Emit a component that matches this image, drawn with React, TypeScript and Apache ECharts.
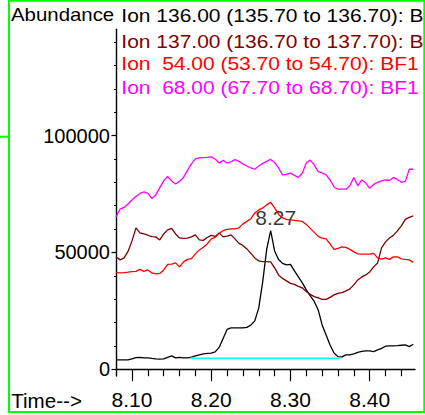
import React, { useEffect, useRef } from "react";
import * as echarts from "echarts";

const times = [
  8.080, 8.085, 8.090, 8.095, 8.100, 8.105, 8.110, 8.115, 8.120, 8.125,
  8.130, 8.135, 8.140, 8.145, 8.150, 8.155, 8.160, 8.165, 8.170, 8.175,
  8.180, 8.185, 8.190, 8.195, 8.200, 8.205, 8.210, 8.215, 8.220, 8.225,
  8.230, 8.235, 8.240, 8.245, 8.250, 8.255, 8.260, 8.265, 8.270, 8.275,
  8.280, 8.285, 8.290, 8.295, 8.300, 8.305, 8.310, 8.315, 8.320, 8.325,
  8.330, 8.335, 8.340, 8.345, 8.350, 8.355, 8.360, 8.365, 8.370, 8.375,
  8.380, 8.385, 8.390, 8.395, 8.400, 8.405, 8.410, 8.415, 8.420, 8.425,
  8.430, 8.435, 8.440, 8.445, 8.450, 8.455,
];

const ion136 = [
  3980, 3980, 3980, 3980, 4410, 4970, 5050, 4840, 4840, 4620,
  4410, 4280, 4410, 5050, 5690, 4840, 5050, 4840, 4840, 5140,
  5690, 6120, 6550, 6760, 6850, 7410, 9330, 13190, 17040, 17680,
  17680, 17680, 17680, 17900, 18960, 20680, 26240, 37500, 51300, 59300,
  50640, 47000, 45290, 44650, 44860, 42080, 39510, 36940, 33950, 31380,
  29020, 25390, 18960, 14680, 10400, 6980, 5390, 5270, 6120, 6120,
  6550, 7190, 7620, 7830, 7830, 7530, 8260, 8900, 9850, 9970,
  9970, 10100, 10270, 10400, 9670, 10700,
];

const ion137 = [
  48080, 46800, 47650, 50430, 54930, 60500, 58350, 57900, 57350, 56750,
  56650, 55350, 57900, 59650, 60300, 57900, 56200, 56000, 56100, 56650,
  57500, 55350, 55150, 56400, 57300, 56850, 58350, 56650, 56950, 57500,
  55800, 53850, 53000, 51500, 49570, 47650, 46360, 46060, 46060, 45930,
  43370, 40370, 38870, 37800, 36730, 36300, 35450, 34800, 33300, 32020,
  31080, 30520, 29880, 29880, 30740, 31810, 32450, 32790, 33520, 34380,
  36090, 38230, 39510, 40370, 41650, 43800, 45500, 51930, 54500, 56200,
  57280, 59200, 61350, 64130, 64990, 65630,
];

const ion54 = [
  41350, 41230, 41350, 41530, 41780, 41870, 42720, 41870, 42510, 41230,
  40800, 41010, 42510, 44860, 44950, 45510, 43800, 45930, 47000, 47350,
  49360, 51070, 52230, 53640, 55780, 56420, 58220, 59290, 59850, 60060,
  60060, 60490, 62200, 63270, 64430, 66910, 68200, 69050, 70340, 71400,
  69050, 66270, 64770, 64130, 63920, 63700, 63490, 63270, 61990, 60280,
  58560, 56850, 56080, 55780, 53640, 51290, 51710, 52360, 52140, 51290,
  50220, 49360, 49230, 49230, 49270, 49570, 47650, 47090, 47650, 47000,
  48080, 48080, 47220, 47000, 46790, 45720,
];

const ion68 = [
  65200, 68600, 69250, 70750, 72450, 73950, 75250, 75900, 75250, 73100,
  74600, 77600, 80600, 82500, 80600, 79300, 80400, 82100, 85100, 87900,
  90000, 90450, 90600, 90700, 90900, 90000, 88300, 89400, 88300, 88750,
  89700, 88950, 87900, 87000, 86200, 85600, 87000, 88100, 88950, 89800,
  88500, 86200, 83200, 83400, 84000, 83000, 82100, 84000, 88300, 89500,
  87500, 84600, 84000, 83200, 81000, 78000, 77050, 77050, 77050, 78500,
  82100, 78500, 81000, 79750, 77400, 79100, 80000, 80600, 81000, 80800,
  82100, 81250, 80000, 80400, 85600, 85600,
];

const baselineTimes = [8.1735, 8.363];
const baselineValues = [4700, 4700];

const peakIndex = 39;
const peakLabel = "8.27";

const xMajorTicks = [8.1, 8.2, 8.3, 8.4];
const xMinorTicks = [8.12, 8.14, 8.16, 8.18, 8.22, 8.24, 8.26, 8.28, 8.32, 8.34, 8.36, 8.38, 8.42, 8.44];
const yMajorTicks = [0, 50000, 100000];
const yMinorTicks = [10000, 20000, 30000, 40000, 60000, 70000, 80000, 90000, 110000, 120000, 130000, 140000];

const legendLines = [
  { text: "Ion 136.00 (135.70 to 136.70): B", color: "#000000" },
  { text: "Ion 137.00 (136.70 to 137.70): B", color: "#800000" },
  { text: "Ion  54.00 (53.70 to 54.70): BF1", color: "#ff0000" },
  { text: "Ion  68.00 (67.70 to 68.70): BF1", color: "#ff00ff" },
];
const seriesColors = ["#000000", "#800000", "#ff0000", "#ff00ff"];

const FONT = "'Liberation Sans', Arial, sans-serif";

export default function App() {
  const ref = useRef<HTMLDivElement>(null);

  useEffect(() => {
    if (!ref.current) return;
    const chart = echarts.init(ref.current, null, { renderer: "svg" });
    const seriesValues = [ion136, ion137, ion54, ion68];
    const lineSeries = seriesValues.map((vals, si) => ({
      type: "line",
      xAxisIndex: 0,
      yAxisIndex: 0,
      showSymbol: false,
      silent: true,
      data: times.map((t, i) => [t, vals[i]]),
      lineStyle: { color: seriesColors[si], width: 1.3 },
      itemStyle: { color: seriesColors[si] },
    }));

    const legendY = [15.5, 41, 63.8, 87];
    const graphics: any[] = [
      {
        type: "text",
        x: 11,
        y: 14.8,
        scaleX: 1,
        scaleY: 0.915,
        style: { text: "Abundance", fill: "#000", font: `20.4px ${FONT}`, verticalAlign: "middle", align: "left" },
        z: 10,
      },
      {
        type: "text",
        x: 11.2,
        y: 400,
        style: { text: "Time-->", fill: "#000", font: `20.6px ${FONT}`, verticalAlign: "middle", align: "left" },
        z: 10,
      },
      ...legendLines.map((l, i) => ({
        type: "text",
        x: 121.3,
        y: legendY[i],
        scaleY: 0.885,
        style: { text: l.text, fill: l.color, font: `21px ${FONT}`, verticalAlign: "middle", align: "left" },
        z: 10,
      })),
      {
        type: "rect",
        shape: { x: 9, y: 0.7, width: 415.3, height: 411.3 },
        style: { fill: "none", stroke: "#00ff00", lineWidth: 2 },
        z: 20,
      },
      {
        type: "line",
        shape: { x1: 0, y1: 136.7, x2: 9, y2: 136.7 },
        style: { stroke: "#00ff00", lineWidth: 2 },
        z: 20,
      },
    ];

    chart.setOption({
      animation: false,
      backgroundColor: "#ffffff",
      grid: { left: 116, right: 10, top: 29.3, bottom: 39, outerBoundsMode: "none", containLabel: false },
      xAxis: [
        {
          type: "value",
          min: 8.0798,
          max: 8.4572,
          position: "bottom",
          axisLine: { show: true, lineStyle: { color: "#000", width: 1.4 } },
          axisTick: { show: true, customValues: xMajorTicks, length: 12, lineStyle: { color: "#000", width: 1.2 } },
          axisLabel: {
            show: true,
            customValues: xMajorTicks,
            formatter: (v: number) => v.toFixed(2),
            fontSize: 21,
            fontFamily: FONT,
            color: "#000",
            margin: 13,
          },
          splitLine: { show: false },
        },
        {
          type: "value",
          min: 8.0798,
          max: 8.4572,
          position: "bottom",
          axisLine: { show: false },
          axisTick: { show: true, customValues: xMinorTicks, length: 7, lineStyle: { color: "#000", width: 1.2 } },
          axisLabel: { show: false },
          splitLine: { show: false },
        },
      ],
      yAxis: [
        {
          type: "value",
          min: -2900,
          max: 145500,
          position: "left",
          axisLine: { show: true, lineStyle: { color: "#000", width: 1.4 } },
          axisTick: { show: true, customValues: yMajorTicks, length: 4.5, lineStyle: { color: "#000", width: 1.2 } },
          axisLabel: {
            show: true,
            customValues: yMajorTicks,
            formatter: (v: number) => String(v),
            fontSize: 20,
            fontFamily: FONT,
            color: "#000",
            margin: 6,
          },
          splitLine: { show: false },
        },
        {
          type: "value",
          min: -2900,
          max: 145500,
          position: "left",
          offset: 0,
          axisLine: { show: false },
          axisTick: { show: true, customValues: yMinorTicks, length: 2, lineStyle: { color: "#000", width: 1.2 } },
          axisLabel: { show: false },
          splitLine: { show: false },
        },
      ],
      series: [
        ...lineSeries,
        {
          type: "line",
          showSymbol: false,
          silent: true,
          data: baselineTimes.map((t, i) => [t, baselineValues[i]]),
          lineStyle: { color: "#00ffff", width: 1.3 },
          itemStyle: { color: "#00ffff" },
        },
        {
          type: "scatter",
          silent: true,
          symbolSize: 1,
          itemStyle: { color: "rgba(0,0,0,0)" },
          data: [[times[peakIndex], ion136[peakIndex]]],
          label: {
            show: true,
            position: "top",
            distance: 5,
            offset: [5, 3],
            formatter: peakLabel,
            fontSize: 21,
            fontFamily: FONT,
            color: "#000",
          },
        },
      ],
      graphic: graphics,
    });
    return () => chart.dispose();
  }, []);

  return (
    <div
      ref={ref}
      style={{ position: "fixed", left: 0, top: 0, width: 425, height: 415, background: "#fff" }}
    />
  );
}
